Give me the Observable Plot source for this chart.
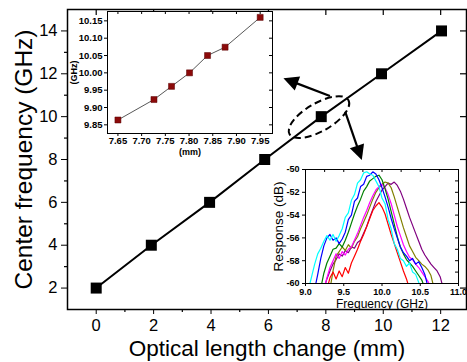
<!DOCTYPE html>
<html><head><meta charset="utf-8">
<script src="https://cdn.jsdelivr.net/npm/d3@7"></script>
<script src="https://cdn.jsdelivr.net/npm/@observablehq/plot@0.6"></script>
<style>
body{margin:0;background:#fff;}
#fig{position:relative;width:467px;height:362px;overflow:hidden;background:#fff;}
#fig > svg{position:absolute;}
</style></head><body><div id="fig"></div>
<script>
// ---------- main chart data ----------
const mainLength = [0, 1.92, 3.95, 5.87, 7.84, 9.94, 12.03];   // mm
const mainFreq   = [2, 4, 6, 8, 10, 12, 14];                   // GHz
const mainXTicks = [0, 2, 4, 6, 8, 10, 12];
const mainYTicks = [2, 4, 6, 8, 10, 12, 14];
const mainXMinor = [1, 3, 5, 7, 9, 11];
const mainYMinor = [3, 5, 7, 9, 11, 13];
const xTitle = "Optical length change (mm)";
const yTitle = "Center frequency (GHz)";
// annotation anchors (data units)
const ellipseAt = [7.84, 10];
const arrowX1 = [8.16, 8.69];
const arrowY1 = [10.94, 10.21];
const arrowX2 = [6.54, 9.27];
const arrowY2 = [11.77, 7.95];

// ---------- inset 1 (zoomed centre frequency) ----------
const zoomLength = [7.65, 7.726, 7.763, 7.801, 7.839, 7.876, 7.95];
const zoomFreq   = [9.864, 9.923, 9.961, 10.0, 10.05, 10.074, 10.16];
const zoomXTicks = [7.65, 7.70, 7.75, 7.80, 7.85, 7.90, 7.95];
const zoomYTicks = [9.85, 9.90, 9.95, 10.00, 10.05, 10.10, 10.15];

// ---------- inset 2 (responses) ----------
const specFreq = [9.04,9.08,9.12,9.16,9.20,9.24,9.28,9.32,9.36,9.40,
                  9.44,9.48,9.52,9.56,9.60,9.64,9.68,9.72,9.76,9.80,
                  9.84,9.88,9.92,9.96,10.00,10.04,10.08,10.12,10.16,10.20,
                  10.24,10.28,10.32,10.36,10.40,10.44,10.48,10.52,10.56,10.60,
                  10.64,10.68,10.72,10.76,10.80,10.84];
const specNames  = ["purple","olive","magenta","red","green","blue","cyan"];
const specColors = ["#8a1a9a","#9c9a12","#f020f0","#f01818","#2ed12e","#1a1adb","#2ee0f0"];
const specPurple = [null,null,null,null,null,-60.5,-59.6,-58.9,-58.3,-57.9,
  -57.4,-57.6,-57.1,-57.3,-56.8,-56.9,-56.4,-56.2,-55.6,-55.0,
  -54.2,-53.5,-52.8,-52.3,-51.8,-51.5,-51.2,-51.3,-51.1,-51.4,
  -51.9,-52.6,-53.4,-54.2,-54.9,-55.6,-56.3,-57.0,-57.5,-57.9,
  -58.3,-58.6,-58.9,-59.4,-60.4,null];
const specOlive = [null,null,null,null,null,null,null,-60.5,-58.9,-57.6,
  -57.2,-56.8,-57.1,-56.6,-56.9,-56.3,-55.9,-55.2,-54.6,-54.0,
  -53.3,-52.6,-52.0,-51.6,-51.3,-51.1,-51.2,-51.6,-52.4,-53.3,
  -54.2,-55.1,-55.9,-56.7,-57.2,-57.7,-58.0,-58.3,-58.5,-58.8,
  -59.3,-60.4,null,null,null,null];
const specMagenta = [null,null,null,null,null,-60.5,-59.5,-58.6,-58.0,-57.4,
  -57.8,-57.2,-57.5,-57.0,-56.8,-56.2,-55.6,-54.9,-54.2,-53.6,
  -52.9,-52.3,-51.8,-51.5,-51.3,-51.6,-52.2,-53.0,-54.0,-55.0,
  -55.8,-56.6,-57.2,-57.7,-57.9,-58.3,-58.6,-59.0,-59.4,-59.8,
  -60.4,null,null,null,null,null];
const specRed = [null,null,null,null,null,null,-60.5,-59.5,-59.0,-59.6,
  -58.9,-59.4,-58.6,-59.1,-58.2,-57.6,-57.0,-56.3,-55.7,-55.0,
  -54.3,-53.6,-53.2,-52.9,-53.3,-53.9,-54.8,-55.7,-56.5,-57.3,
  -58.1,-58.9,-59.6,-60.5,null,null,null,null,null,null,
  null,null,null,null,null,null];
const specGreen = [null,null,null,null,-60.4,-59.1,-58.2,-57.6,-57.0,-56.9,
  -56.5,-56.8,-56.2,-55.5,-54.7,-53.9,-53.2,-52.6,-51.9,-51.5,
  -51.0,-50.8,-50.6,-50.5,-50.9,-51.7,-52.6,-53.7,-54.8,-55.9,
  -56.8,-57.4,-57.9,-58.2,-58.5,-58.9,-59.3,-59.7,-60.4,null,
  null,null,null,null,null,null];
const specBlue = [null,null,-60.5,-59.2,-57.8,-56.7,-56.0,-55.7,-56.2,-56.0,
  -56.5,-56.1,-55.5,-54.4,-54.0,-52.8,-52.5,-51.5,-51.3,-50.6,
  -50.5,-50.2,-50.4,-50.9,-51.6,-52.4,-53.3,-54.3,-55.2,-56.0,
  -56.8,-57.3,-57.6,-58.0,-57.8,-58.3,-58.1,-58.6,-59.2,-60.3,
  null,null,null,null,null,null];
const specCyan = [-60.5,-59.4,-58.3,-57.4,-56.9,-56.3,-55.8,-56.2,-55.7,-56.3,
  -55.8,-55.2,-54.2,-53.8,-52.7,-52.2,-51.2,-50.9,-50.3,-50.2,
  -50.4,-50.5,-51.0,-51.5,-52.5,-53.0,-54.4,-55.2,-56.5,-57.0,
  -57.8,-58.0,-58.5,-58.2,-59.0,-59.2,-59.9,-60.6,null,null,
  null,null,null,null,null,null];
const specXTicks = [9.0, 9.5, 10.0, 10.5, 11.0];
const specXMinor = [9.25, 9.5, 9.75, 10.0, 10.25, 10.5, 10.75];
const specYTicks = [-60, -58, -56, -54, -52, -50];
const specYMinor = [-59, -58, -57, -56, -55, -54, -53, -52, -51];

// ---------- build ----------
const FONT = '"Liberation Sans", Arial, Helvetica, sans-serif';
const fig = document.getElementById("fig");

const mainPts = mainLength.map((x, i) => ({x, y: mainFreq[i]}));

const ellipseMark = (index, scales) => {
  const cx = scales.x(ellipseAt[0]), cy = scales.y(ellipseAt[1]);
  const g = d3.create("svg:g");
  g.append("ellipse").attr("cx", cx - 2).attr("cy", cy).attr("rx", 34).attr("ry", 14)
    .attr("transform", `rotate(-30 ${cx} ${cy})`)
    .attr("fill", "none").attr("stroke", "black").attr("stroke-width", 2)
    .attr("stroke-dasharray", "7,4");
  return g.node();
};
const arrowMark = (index, scales) => {
  const g = d3.create("svg:g");
  for (let i = 0; i < arrowX1.length; i++) {
    const x1 = scales.x(arrowX1[i]), y1 = scales.y(arrowY1[i]);
    const x2 = scales.x(arrowX2[i]), y2 = scales.y(arrowY2[i]);
    const a = Math.atan2(y2 - y1, x2 - x1), L = 15, W = 7.5;
    const bx = x2 - L * Math.cos(a), by = y2 - L * Math.sin(a);
    g.append("line").attr("x1", x1).attr("y1", y1).attr("x2", bx + 2 * Math.cos(a)).attr("y2", by + 2 * Math.sin(a))
      .attr("stroke", "black").attr("stroke-width", 2.2);
    g.append("path")
      .attr("d", `M${x2},${y2}L${bx - W * Math.sin(a)},${by + W * Math.cos(a)}L${bx + W * Math.sin(a)},${by - W * Math.cos(a)}Z`)
      .attr("fill", "black");
  }
  return g.node();
};

const main = Plot.plot({
  width: 467, height: 362,
  marginLeft: 67, marginRight: 1, marginTop: 9, marginBottom: 53,
  x: {domain: [-1, 12.9], ticks: mainXTicks, tickSize: 5, tickPadding: 5, label: null},
  y: {domain: [1, 15], ticks: mainYTicks, tickSize: 6, tickPadding: 4, label: null},
  style: {fontFamily: FONT, fontSize: "16.5px", color: "black", background: "white"},
  marks: [
    Plot.frame({stroke: "black", strokeWidth: 1.5}),
    Plot.ruleX(mainXTicks, {insetBottom: 294, strokeWidth: 1.2}),
    Plot.ruleY(mainYTicks, {insetLeft: 393, strokeWidth: 1.2}),
    Plot.ruleX(mainXMinor, {insetTop: 300, insetBottom: -3, strokeWidth: 1.2}),
    Plot.ruleY(mainYMinor, {insetRight: 399, insetLeft: -3, strokeWidth: 1.2}),
    Plot.line(mainPts, {x: "x", y: "y", stroke: "black", strokeWidth: 2}),
    Plot.dot(mainPts, {x: "x", y: "y", symbol: "square", r: 6.2, fill: "black", stroke: "none"}),
    ellipseMark,
    arrowMark,
    Plot.text([xTitle], {text: d => d, frameAnchor: "bottom", textAnchor: "middle", lineAnchor: "middle", dy: 39, fontSize: 22.5}),
    Plot.text([yTitle], {text: d => d, frameAnchor: "left", textAnchor: "middle", lineAnchor: "middle", dx: -43, rotate: -90, fontSize: 24.5})
  ]
});
main.style.left = "0px"; main.style.top = "0px";
fig.appendChild(main);

// inset 1
const zoomPts = zoomLength.map((x, i) => ({x, y: zoomFreq[i]}));
const in1 = Plot.plot({
  width: 212, height: 154,
  marginLeft: 43, marginTop: 5, marginRight: 4, marginBottom: 27,
  x: {domain: [7.628, 7.976], ticks: zoomXTicks, tickSize: 3, tickPadding: 1, tickFormat: d => d.toFixed(2), label: null},
  y: {domain: [9.825, 10.177], ticks: zoomYTicks, tickSize: 3, tickPadding: 2, tickFormat: d => d.toFixed(2), label: null},
  style: {fontFamily: FONT, fontSize: "9.5px", fontWeight: "bold", color: "black", background: "transparent"},
  marks: [
    Plot.frame({fill: "white", stroke: "black"}),
    Plot.ruleX(zoomXTicks, {insetBottom: 119}),
    Plot.ruleY(zoomYTicks, {insetLeft: 162}),
    Plot.line(zoomPts, {x: "x", y: "y", stroke: "#444", strokeWidth: 0.9}),
    Plot.dot(zoomPts, {x: "x", y: "y", symbol: "square", r: 3.4, fill: "#8b0a0a", stroke: "#5a0000", strokeWidth: 0.5}),
    Plot.text(["(GHz)"], {text: d => d, frameAnchor: "left", textAnchor: "middle", lineAnchor: "middle", dx: -33, rotate: -90, fontSize: 9}),
    Plot.text(["(mm)"], {text: d => d, frameAnchor: "bottom", textAnchor: "middle", lineAnchor: "middle", dy: 18.5, fontSize: 9})
  ]
});
in1.style.left = "64px"; in1.style.top = "6px";
fig.appendChild(in1);

// inset 2
const specSeries = [specPurple, specOlive, specMagenta, specRed, specGreen, specBlue, specCyan];
const specRows = [];
specSeries.forEach((vals, k) => vals.forEach((v, i) => { if (v != null) specRows.push({f: specFreq[i], r: v, c: specNames[k]}); }));
const in2 = Plot.plot({
  width: 197, height: 150,
  marginLeft: 35, marginTop: 9, marginRight: 9, marginBottom: 27,
  x: {domain: [9, 11], ticks: specXTicks, tickSize: 3, tickPadding: 2, tickFormat: d => d.toFixed(1), label: null},
  y: {domain: [-60, -50], ticks: specYTicks, tickSize: 3, tickPadding: 3, tickFormat: d => d.toFixed(0), label: null},
  color: {domain: specNames, range: specColors},
  style: {fontFamily: FONT, fontSize: "9px", fontWeight: "bold", color: "black", background: "transparent"},
  marks: [
    Plot.frame({fill: "white", stroke: "black"}),
    Plot.ruleX(specXMinor, {insetBottom: 111}),
    Plot.ruleY(specYMinor, {insetLeft: 150}),
    Plot.line(specRows, {x: "f", y: "r", z: "c", stroke: "c", strokeWidth: 1.2, clip: true}),
    Plot.text(["Frequency (GHz)"], {text: d => d, frameAnchor: "bottom", textAnchor: "middle", lineAnchor: "middle", dy: 21, fontSize: 12, fontWeight: "normal"}),
    Plot.text(["Response (dB)"], {text: d => d, frameAnchor: "left", textAnchor: "middle", lineAnchor: "middle", dx: -27, rotate: -90, fontSize: 13.5, fontWeight: "normal"})
  ]
});
in2.style.left = "270px"; in2.style.top = "160px";
fig.appendChild(in2);
</script></body></html>
